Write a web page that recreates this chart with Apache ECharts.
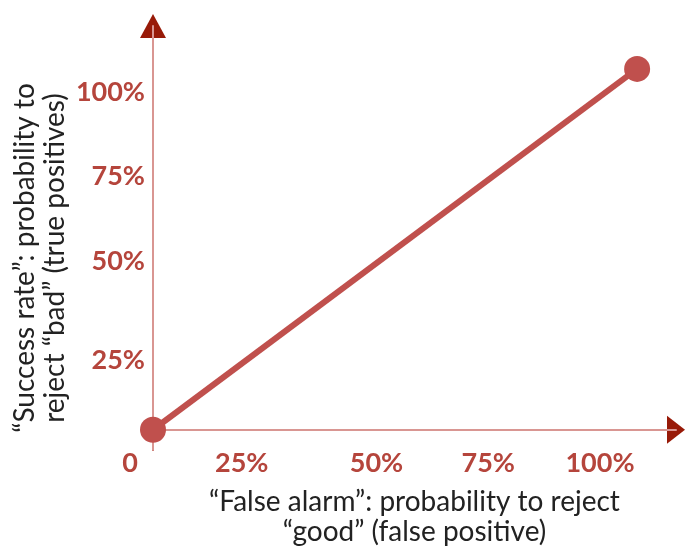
<!DOCTYPE html>
<html><head><meta charset="utf-8">
<script src="https://cdn.jsdelivr.net/npm/echarts@6/dist/echarts.min.js"></script>
<style>html,body{margin:0;padding:0;background:#fff}#c{width:686px;height:548px}</style>
</head><body><div id="c"></div>
<script>
// Data
const xValues = [0, 1.083];
const yValues = [0, 1.068];
const xTickValues = [0, 0.25, 0.5, 0.75, 1];
const xTickLabels = ['0', '25%', '50%', '75%', '100%'];
const yTickValues = [0.25, 0.5, 0.75, 1];
const yTickLabels = ['25%', '50%', '75%', '100%'];
const xName = '\u201cFalse alarm\u201d: probability to reject\n\u201cgood\u201d (false positive)';
const yName = '\u201cSuccess rate\u201d: probability to\nreject \u201cbad\u201d (true positives)';

const FONT = 'Lato, "Open Sans", sans-serif';
const LABEL_COLOR = '#b5453c';
const AXIS_PINK = '#d99692';
const ARROW_DARK = '#981a08';

const chart = echarts.init(document.getElementById('c'));
const xLabelFmt = v => {
  const i = xTickValues.indexOf(v);
  if (i < 0) return '';
  return (i <= 1 ? '{s|' : '{n|') + xTickLabels[i] + '}';
};
const yLabelFmt = v => {
  const i = yTickValues.indexOf(v);
  if (i < 0) return '';
  return (i === 0 ? '{s|' : '{n|') + yTickLabels[i] + '}';
};
const lblStyle = {color: LABEL_COLOR, fontFamily: FONT, fontWeight: 'bold', fontSize: 27};
const nameStyle = {color: '#222', fontFamily: FONT, fontSize: 28, lineHeight: 30};
chart.setOption({
  backgroundColor: '#fff',
  animation: false,
  grid: {left: 153, right: 10, top: 26, bottom: 98, containLabel: false, outerBoundsMode: 'none'},
  xAxis: [{
    type: 'value', min: 0, max: 1.17, z: 1,
    axisLine: {show: true, onZero: true, symbol: ['none', 'triangle'], symbolSize: [28, 18], lineStyle: {color: ARROW_DARK, width: 2}},
    axisTick: {show: false}, splitLine: {show: false}, axisLabel: {show: false}
  }, {
    type: 'value', min: 0, max: 1.17, z: 2, position: 'bottom',
    axisLine: {show: true, onZero: true, lineStyle: {color: AXIS_PINK, width: 2}},
    axisTick: {show: false}, splitLine: {show: false},
    axisLabel: {
      show: true, customValues: xTickValues, formatter: xLabelFmt, margin: 0,
      rich: {s: Object.assign({padding: [0, 46, 0, 0]}, lblStyle), n: lblStyle}
    },
    name: xName, nameLocation: 'middle', nameGap: 37, nameMoveOverlap: false,
    nameTextStyle: nameStyle
  }],
  yAxis: [{
    type: 'value', min: -0.06, max: 1.195, z: 1,
    axisLine: {show: true, onZero: true, symbol: ['none', 'triangle'], symbolSize: [26, 24], lineStyle: {color: ARROW_DARK, width: 2}},
    axisTick: {show: false}, splitLine: {show: false}, axisLabel: {show: false}
  }, {
    type: 'value', min: -0.06, max: 1.195, z: 2, position: 'left',
    axisLine: {show: true, onZero: true, lineStyle: {color: AXIS_PINK, width: 2}},
    axisTick: {show: false}, splitLine: {show: false},
    axisLabel: {
      show: true, customValues: yTickValues, formatter: yLabelFmt, margin: 8,
      rich: {s: Object.assign({padding: [30, 0, 0, 0]}, lblStyle), n: lblStyle}
    },
    name: yName, nameLocation: 'middle', nameGap: 83, nameMoveOverlap: false,
    nameTextStyle: Object.assign({padding: [0, 40, 0, 0]}, nameStyle)
  }],
  series: [{
    type: 'line', xAxisIndex: 1, yAxisIndex: 1,
    data: xValues.map((x, i) => [x, yValues[i]]),
    symbol: 'circle', symbolSize: 26,
    lineStyle: {color: '#c0504d', width: 6},
    itemStyle: {color: '#c0504d'}, z: 5
  }]
});
</script></body></html>
